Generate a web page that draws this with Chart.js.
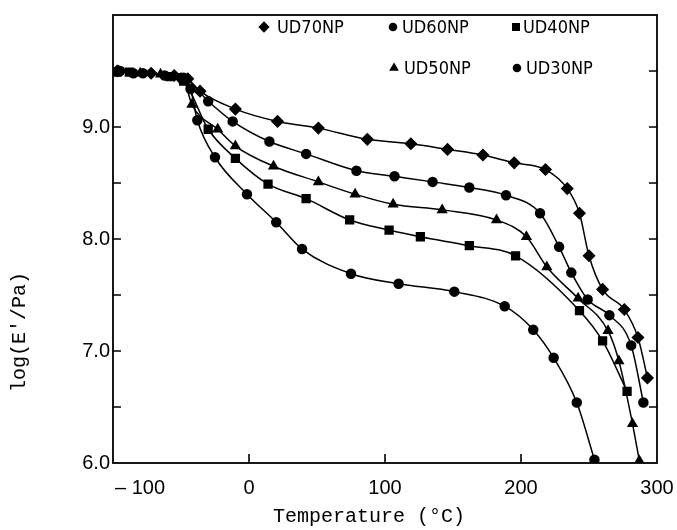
<!DOCTYPE html>
<html>
<head>
<meta charset="utf-8">
<script src="https://cdn.jsdelivr.net/npm/chart.js@4.4.0/dist/chart.umd.min.js"></script>
<style>
  body { margin: 0; background: #fff; }
</style>
</head>
<body>
<canvas id="chart" width="677" height="530"></canvas>
<script>
// values: temperature (C) and log(E'/Pa)
const ud70Temp = [-97, -72, -55, -45, -36, -10, 21, 51, 87, 119, 146, 172, 195, 218, 234, 243, 250, 260, 276, 286, 293]
const ud70Mod = [9.5, 9.48, 9.46, 9.43, 9.32, 9.16, 9.05, 8.99, 8.89, 8.85, 8.8, 8.75, 8.68, 8.62, 8.45, 8.23, 7.85, 7.55, 7.37, 7.12, 6.76]

const ud60Temp = [-95, -78, -62, -48, -30, -12, 15, 42, 79, 107, 135, 162, 189, 214, 228, 237, 249, 265, 281, 290]
const ud60Mod = [9.5, 9.48, 9.46, 9.44, 9.23, 9.05, 8.87, 8.76, 8.61, 8.56, 8.51, 8.46, 8.39, 8.23, 7.93, 7.7, 7.46, 7.32, 7.05, 6.54]

const ud50Temp = [-96, -80, -65, -48, -42, -23, -10, 18, 51, 78, 106, 142, 182, 204, 219, 242, 264, 272, 282, 287]
const ud50Mod = [9.5, 9.48, 9.47, 9.42, 9.2, 8.98, 8.83, 8.65, 8.51, 8.4, 8.31, 8.26, 8.17, 8.02, 7.75, 7.47, 7.18, 6.91, 6.35, 6.02]

const ud40Temp = [-97, -88, -58, -48, -30, -10, 14, 42, 74, 103, 126, 162, 196, 243, 260, 278]
const ud40Mod = [9.49, 9.49, 9.45, 9.41, 8.98, 8.72, 8.49, 8.36, 8.17, 8.08, 8.02, 7.94, 7.85, 7.36, 7.09, 6.64]

const ud30Temp = [-95, -85, -50, -43, -38, -25, -1.5, 20, 39, 75, 110, 151, 188, 209, 224, 241, 254]
const ud30Mod = [9.5, 9.48, 9.44, 9.34, 9.06, 8.73, 8.4, 8.15, 7.91, 7.69, 7.6, 7.53, 7.4, 7.19, 6.94, 6.54, 6.03]

const xTicks = [-100, 0, 100, 200, 300]
const xTickLabels = ['– 100', '0', '100', '200', '300']
const yTicks = [6, 7, 8, 9]

const toPoints = (xs, ys) => xs.map((x, i) => ({ x: x, y: ys[i] }))

const series = [
  { label: 'UD70NP', data: toPoints(ud70Temp, ud70Mod), pointStyle: 'rectRot', pointRadius: 5.5 },
  { label: 'UD60NP', data: toPoints(ud60Temp, ud60Mod), pointStyle: 'circle', pointRadius: 4.5 },
  { label: 'UD50NP', data: toPoints(ud50Temp, ud50Mod), pointStyle: 'triangle', pointRadius: 5 },
  { label: 'UD40NP', data: toPoints(ud40Temp, ud40Mod), pointStyle: 'rect', pointRadius: 5.5 },
  { label: 'UD30NP', data: toPoints(ud30Temp, ud30Mod), pointStyle: 'circle', pointRadius: 4.5 },
]

const monoFont = '"Liberation Mono", "DejaVu Sans Mono", monospace'
const sansFont = '"Liberation Sans", Arial, sans-serif'
const narrowFont = '"Liberation Sans Narrow", "DejaVu Sans Condensed", "Liberation Sans", sans-serif'

// legend sits inside the plot, two rows
const legendSpots = [
  { label: 'UD70NP', mx: 264, my: 27, tx: 277 },
  { label: 'UD60NP', mx: 393, my: 27, tx: 402 },
  { label: 'UD40NP', mx: 516, my: 27, tx: 523 },
  { label: 'UD50NP', mx: 394, my: 68, tx: 404 },
  { label: 'UD30NP', mx: 517, my: 68, tx: 526 },
]

const framePlugin = {
  id: 'frame',
  afterDraw(chart) {
    const { ctx, chartArea: a, scales } = chart
    ctx.save()
    ctx.strokeStyle = '#000'
    ctx.lineWidth = 1.8
    ctx.strokeRect(a.left, a.top, a.right - a.left, a.bottom - a.top)

    // inward ticks
    ctx.lineWidth = 1.6
    ctx.beginPath()
    for (let v = 6.5; v < 10; v += 0.5) {
      const py = scales.y.getPixelForValue(v)
      ctx.moveTo(a.left, py)
      ctx.lineTo(a.left + 8, py)
      ctx.moveTo(a.right, py)
      ctx.lineTo(a.right - 8, py)
    }
    xTicks.slice(1, -1).forEach((v) => {
      const px = scales.x.getPixelForValue(v)
      ctx.moveTo(px, a.bottom)
      ctx.lineTo(px, a.bottom - 9)
    })
    ctx.stroke()

    // x tick labels
    ctx.fillStyle = '#000'
    ctx.font = '20px ' + sansFont
    ctx.textAlign = 'center'
    ctx.textBaseline = 'middle'
    xTicks.forEach((v, i) => {
      let px = scales.x.getPixelForValue(v)
      if (i === 0) px += 27
      ctx.fillText(xTickLabels[i], px, a.bottom + 25)
    })

    // axis titles
    ctx.font = '20px ' + monoFont
    ctx.fillText('Temperature (°C)', 369, 517)
    ctx.save()
    ctx.translate(20, 332)
    ctx.rotate(-Math.PI / 2)
    ctx.fillText("log(E'/Pa)", 0, 0)
    ctx.restore()

    // legend
    ctx.font = '18px ' + narrowFont
    ctx.textAlign = 'left'
    legendSpots.forEach((s) => {
      const ds = chart.data.datasets.find((d) => d.label === s.label)
      Chart.helpers.drawPoint(ctx, { pointStyle: ds.pointStyle, radius: ds.pointRadius - 1, rotation: 0, borderWidth: 1 }, s.mx, s.my)
      ctx.fillText(s.label, s.tx, s.my + 1)
    })
    ctx.restore()
  },
}

new Chart(document.getElementById('chart'), {
  type: 'line',
  data: {
    datasets: series.map((s) => ({
      label: s.label,
      data: s.data,
      pointStyle: s.pointStyle,
      pointRadius: s.pointRadius,
      borderColor: '#000',
      backgroundColor: '#000',
      pointBackgroundColor: '#000',
      pointBorderColor: '#000',
      borderWidth: 1.5,
      cubicInterpolationMode: 'monotone',
      fill: false,
    })),
  },
  options: {
    responsive: false,
    animation: false,
    layout: { padding: { top: 10, right: 20, left: 0, bottom: 0 } },
    plugins: {
      legend: { display: false },
      tooltip: { enabled: false },
    },
    scales: {
      x: {
        type: 'linear',
        min: -100,
        max: 300,
        afterBuildTicks: (s) => { s.ticks = xTicks.map((v) => ({ value: v })) },
        ticks: { display: false },
        grid: { display: false, drawTicks: false },
        border: { display: false },
        afterFit: (s) => { s.height = 67 },
      },
      y: {
        type: 'linear',
        min: 6,
        max: 10,
        afterBuildTicks: (s) => { s.ticks = yTicks.map((v) => ({ value: v })) },
        ticks: {
          callback: (v) => v.toFixed(1),
          color: '#000',
          padding: 3,
          font: { family: sansFont, size: 20 },
        },
        grid: { display: false, drawTicks: false },
        border: { display: false },
        afterFit: (s) => { s.width = 113 },
      },
    },
  },
  plugins: [framePlugin],
})
</script>
</body>
</html>
